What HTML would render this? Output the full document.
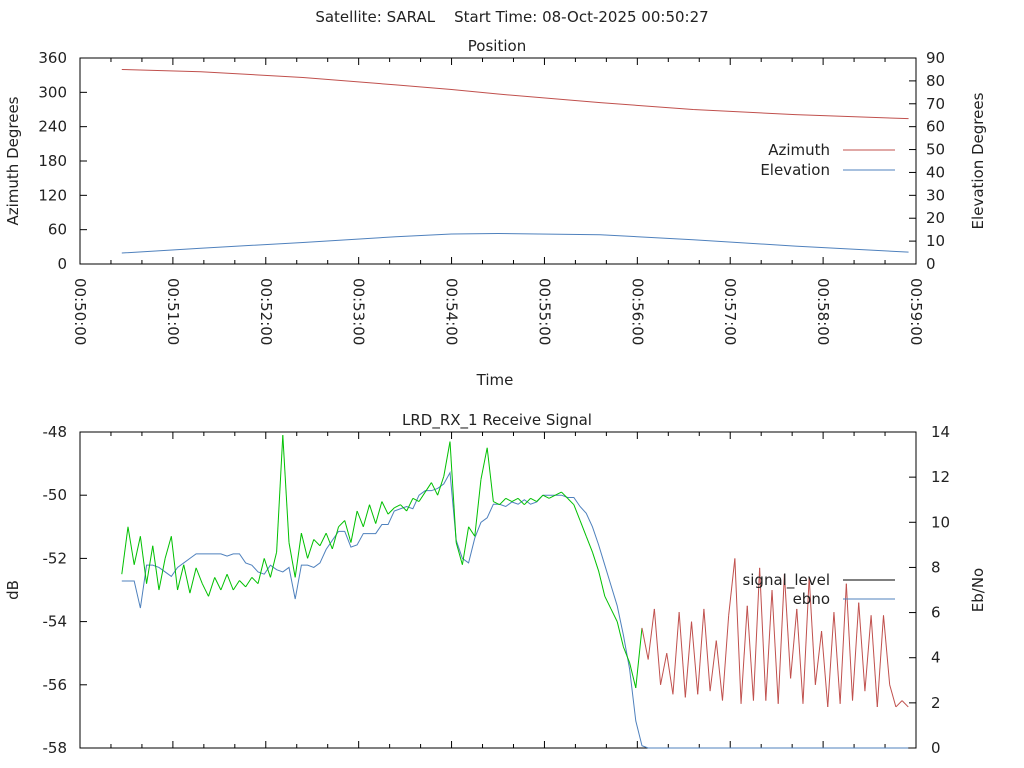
<!DOCTYPE html>
<html><head><meta charset="utf-8"><style>
html,body{margin:0;padding:0;background:#fff;}
svg{display:block;font-family:"DejaVu Sans","Liberation Sans",sans-serif;font-size:15px;fill:#222;}
text{white-space:pre;}
</style></head><body>
<svg id="chart" width="1024" height="768"></svg>
<script>
// ---- Position chart data ----
const posMinutes = [0.45, 1.3, 2.4, 3.4, 4.0, 4.5, 5.6, 6.6, 7.7, 8.92];
const azimuth = [340, 336, 326, 313, 305, 297, 282, 270, 261, 254];
const elevation = [4.8, 6.9, 9.4, 11.9, 13.1, 13.3, 12.8, 10.6, 7.8, 5.2];
const timeTicks = ["00:50:00","00:51:00","00:52:00","00:53:00","00:54:00","00:55:00","00:56:00","00:57:00","00:58:00","00:59:00"];
const azTicks = [0,60,120,180,240,300,360];
const elTicks = [0,10,20,30,40,50,60,70,80,90];
// ---- Signal chart data ----
const sigStartSec = 27;
const sigStepSec = 4;
const signalLevel = [-52.5,-51.0,-52.2,-51.3,-52.8,-51.6,-53.0,-52.0,-51.3,-53.0,-52.2,-53.1,-52.3,-52.8,-53.2,-52.6,-53.0,-52.5,-53.0,-52.7,-52.9,-52.6,-52.8,-52.0,-52.6,-51.8,-48.1,-51.5,-52.6,-51.2,-52.0,-51.4,-51.6,-51.2,-51.7,-51.0,-50.8,-51.5,-50.5,-51.0,-50.3,-50.9,-50.2,-50.6,-50.4,-50.3,-50.5,-50.1,-50.2,-49.9,-49.6,-50.0,-49.4,-48.3,-51.5,-52.2,-51.0,-51.3,-49.5,-48.5,-50.2,-50.3,-50.1,-50.2,-50.1,-50.3,-50.1,-50.2,-50.0,-50.1,-50.0,-49.9,-50.1,-50.3,-50.8,-51.3,-51.8,-52.4,-53.2,-53.6,-54.0,-54.8,-55.3,-56.1,-54.2,-55.2,
-53.6,-56.0,-55.0,-56.3,-53.7,-56.4,-54.0,-56.3,-53.6,-56.2,-54.6,-56.5,-53.8,-52.0,-56.6,-53.5,-56.5,-52.3,-56.5,-53.0,-56.6,-52.5,-55.8,-53.6,-56.6,-52.6,-56.0,-54.3,-56.7,-53.7,-56.6,-52.8,-56.5,-53.4,-56.2,-53.8,-56.7,-53.8,-56.0,-56.7,-56.5,-56.7];
const ebno = [7.4,7.4,7.4,6.2,8.1,8.1,8.0,7.8,7.6,8.0,8.2,8.4,8.6,8.6,8.6,8.6,8.6,8.5,8.6,8.6,8.2,8.1,7.8,7.7,8.1,7.9,7.8,8.0,6.6,8.1,8.1,8.0,8.2,8.8,9.2,9.6,9.6,8.9,9.0,9.5,9.5,9.5,9.9,9.9,10.5,10.6,10.7,10.6,11.2,11.4,11.4,11.5,11.7,12.2,9.2,8.4,8.2,9.3,10.0,10.2,10.8,10.8,10.7,10.9,10.8,11.0,10.8,10.9,11.2,11.2,11.2,11.2,11.1,11.1,10.7,10.4,9.8,9.0,8.1,7.2,6.3,5.0,3.5,1.2,0.1,0,
0,0,0,0,0,0,0,0,0,0,0,0,0,0,0,0,0,0,0,0,0,0,0,0,0,0,0,0,0,0,0,0,0,0,0,0,0,0,0,0,0,0];
const dbTicks = [-48,-50,-52,-54,-56,-58];
const ebTicks = [0,2,4,6,8,10,12,14];

const NS="http://www.w3.org/2000/svg";
const svg=document.getElementById('chart');
function mk(tag,attrs,parent){const e=document.createElementNS(NS,tag);for(const k in attrs)e.setAttribute(k,attrs[k]);(parent||svg).appendChild(e);return e;}
function txt(s,x,y,anchor,extra){const t=mk('text',Object.assign({x:x,y:y,'text-anchor':anchor||'middle'},extra||{}));t.textContent=s;return t;}

const L=80,R=916;
const xSec=s=>L+(R-L)*s/540;
const T1=58,B1=264;
const yAz=v=>B1-(B1-T1)*v/360;
const yEl=v=>B1-(B1-T1)*v/90;
const T2=432,B2=748;
const yDb=v=>T2+(B2-T2)*(-48-v)/10;
const yEb=v=>B2-(B2-T2)*v/14;

let t;
t=txt("Satellite: SARAL    Start Time: 08-Oct-2025 00:50:27",512,22,'middle');



function frame(top,bot,name){
  const r=mk('rect',{x:L,y:top,width:R-L,height:bot-top,fill:'none',stroke:'#000','stroke-width':1});
  
  
  for(let s=0;s<=540;s+=20){const x=xSec(s);const len=(s%60===0)?7:4;
    mk('line',{x1:x,y1:bot,x2:x,y2:bot-len,stroke:'#000'});
    mk('line',{x1:x,y1:top,x2:x,y2:top+len,stroke:'#000'});}
}
// ---- Top chart ----
frame(T1,B1,'position-plot-area');
t=txt("Position",497,51);
azTicks.forEach(v=>{const y=yAz(v);mk('line',{x1:L,y1:y,x2:L+7,y2:y,stroke:'#000'});
  const e=txt(String(v),67,y+5,'end');});
elTicks.forEach(v=>{const y=yEl(v);mk('line',{x1:R,y1:y,x2:R-7,y2:y,stroke:'#000'});
  const e=txt(String(v),926,y+5,'start');});
timeTicks.forEach((s,i)=>{const x=xSec(i*60);
  const e=txt(s,x,278,'start',{transform:`rotate(90 ${x} 278)`,dy:'5'});
  });
t=txt("Azimuth Degrees",18,161,'middle',{transform:'rotate(-90 18 161)'});
t=txt("Elevation Degrees",983,161,'middle',{transform:'rotate(-90 983 161)'});
t=txt("Time",495,385);

let p=mk('polyline',{points:posMinutes.map((m,i)=>xSec(m*60)+','+yAz(azimuth[i])).join(' '),fill:'none',stroke:'#c0504d','stroke-width':1});

p=mk('polyline',{points:posMinutes.map((m,i)=>xSec(m*60)+','+yEl(elevation[i])).join(' '),fill:'none',stroke:'#4f81bd','stroke-width':1});

t=txt("Azimuth",830,155,'end');
mk('line',{x1:843,y1:150,x2:895,y2:150,stroke:'#c0504d'});
t=txt("Elevation",830,175,'end');
mk('line',{x1:843,y1:170,x2:895,y2:170,stroke:'#4f81bd'});

// ---- Bottom chart ----
frame(T2,B2,'signal-plot-area');
t=txt("LRD_RX_1 Receive Signal",497,425);
dbTicks.forEach(v=>{const y=yDb(v);mk('line',{x1:L,y1:y,x2:L+7,y2:y,stroke:'#000'});
  const e=txt(String(v),67,y+5,'end');});
ebTicks.forEach(v=>{const y=yEb(v);mk('line',{x1:R,y1:y,x2:R-7,y2:y,stroke:'#000'});
  const e=txt(String(v),931,y+5,'start');});
t=txt("dB",18,590,'middle',{transform:'rotate(-90 18 590)'});
t=txt("Eb/No",983,590,'middle',{transform:'rotate(-90 983 590)'});

const sx=i=>xSec(sigStartSec+i*sigStepSec);
p=mk('polyline',{points:ebno.map((v,i)=>sx(i)+','+yEb(v)).join(' '),fill:'none',stroke:'#4f81bd','stroke-width':1});

for(let i=1;i<signalLevel.length;i++){
  const col=ebno[i]>0.05?'#00c000':'#c0504d';
  const s=mk('line',{x1:sx(i-1),y1:yDb(signalLevel[i-1]),x2:sx(i),y2:yDb(signalLevel[i]),stroke:col,'stroke-width':1});
  
  
}
t=txt("signal_level",830,585,'end');
mk('line',{x1:843,y1:580,x2:895,y2:580,stroke:'#000'});
t=txt("ebno",830,604,'end');
mk('line',{x1:843,y1:599,x2:895,y2:599,stroke:'#4f81bd'});
</script>
</body></html>
